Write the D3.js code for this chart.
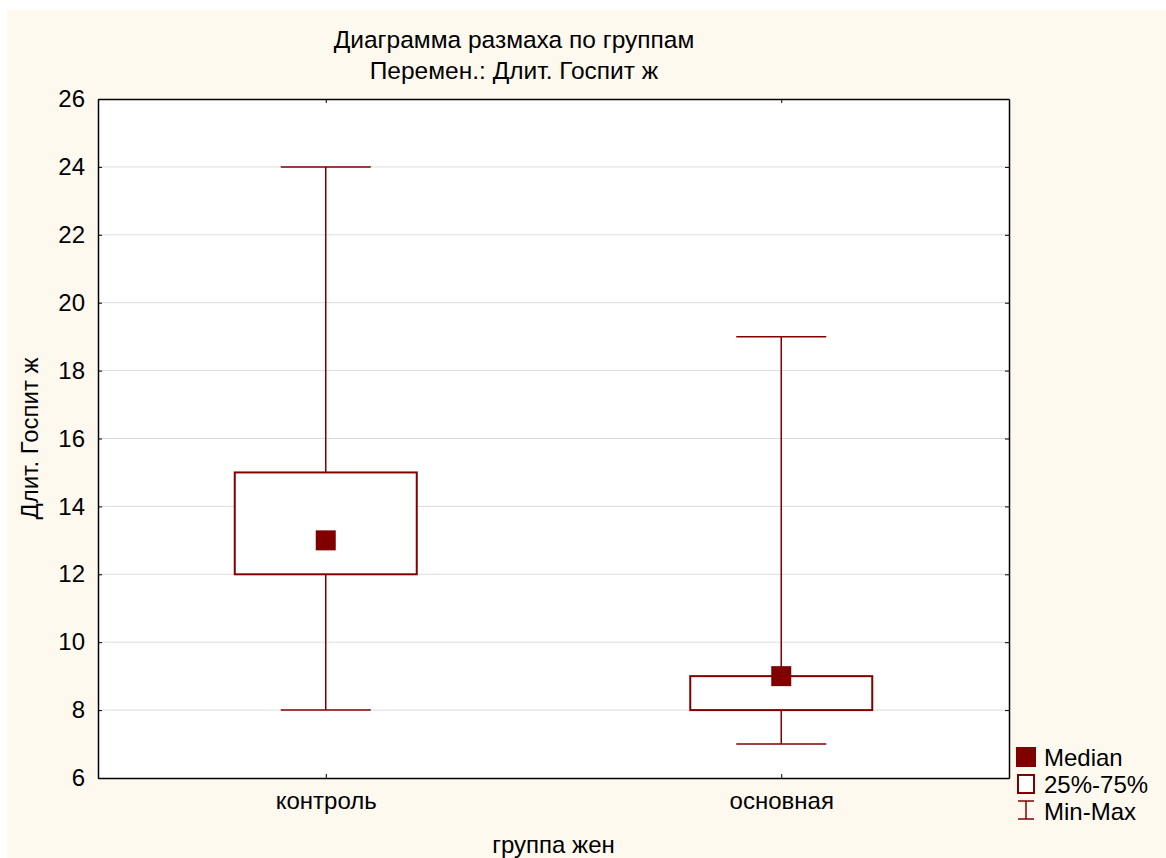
<!DOCTYPE html>
<html><head><meta charset="utf-8">
<script src="https://cdn.jsdelivr.net/npm/d3@7"></script>
<style>body{margin:0;background:#fff}svg{display:block}text{font-family:"Liberation Sans",Arial,sans-serif;fill:#000}</style>
</head><body>
<script>
const categories = ["контроль", "основная"];
const minVals = [8, 7];
const q1Vals = [12, 8];
const medianVals = [13, 9];
const q3Vals = [15, 9];
const maxVals = [24, 19];
const yTicks = [6, 8, 10, 12, 14, 16, 18, 20, 22, 24, 26];
const titleLines = ["Диаграмма размаха по группам", "Перемен.: Длит. Госпит ж"];
const xLabel = "группа жен";
const yLabel = "Длит. Госпит ж";
const legendItems = ["Median", "25%-75%", "Min-Max"];

const W = 1166, H = 858;
const m = {l: 98, t: 99, r: 1009, b: 778};
const col = "#800000";
const fs = 24;
const fsTitle = 24.5;

const svg = d3.select("body").append("svg").attr("width", W).attr("height", H);
svg.append("rect").attr("x", 7).attr("y", 10).attr("width", W - 7).attr("height", H - 10).attr("fill", "#fdf9ef");

const y = d3.scaleLinear().domain([6, 26]).range([m.b, m.t]);
const x = d3.scalePoint().domain(categories).range([m.l, m.r]).padding(0.5);

svg.append("rect").attr("x", m.l).attr("y", m.t).attr("width", m.r - m.l).attr("height", m.b - m.t).attr("fill", "#fff");

// grid
svg.append("g").selectAll("line").data(yTicks.filter(t => t > 6 && t < 26)).join("line")
  .attr("x1", m.l).attr("x2", m.r).attr("y1", d => y(d)).attr("y2", d => y(d))
  .attr("stroke", "#dcdcdc").attr("stroke-width", 1);

// axes
const yAxis = svg.append("g").attr("transform", `translate(${m.l},0)`)
  .call(d3.axisLeft(y).tickValues(yTicks).tickSizeInner(-4).tickSizeOuter(0).tickPadding(13));
yAxis.select(".domain").attr("stroke", "#000").attr("stroke-width", 1.5);
yAxis.selectAll(".tick line").attr("stroke", "#000");
yAxis.selectAll("text").attr("font-size", fs).attr("font-family", "Liberation Sans, Arial, sans-serif").attr("fill", "#000");

const yAxisR = svg.append("g").attr("transform", `translate(${m.r},0)`)
  .call(d3.axisRight(y).tickValues(yTicks).tickSizeInner(-4).tickSizeOuter(0).tickFormat(""));
yAxisR.select(".domain").attr("stroke", "#000").attr("stroke-width", 1.5);
yAxisR.selectAll(".tick line").attr("stroke", "#000");

const xAxis = svg.append("g").attr("transform", `translate(0,${m.b})`)
  .call(d3.axisBottom(x).tickSizeInner(-4).tickSizeOuter(0).tickPadding(14));
xAxis.select(".domain").attr("stroke", "#000").attr("stroke-width", 1.5);
xAxis.selectAll(".tick line").attr("stroke", "#000");
xAxis.selectAll("text").attr("font-size", fs).attr("font-family", "Liberation Sans, Arial, sans-serif").attr("fill", "#000");

const xAxisT = svg.append("g").attr("transform", `translate(0,${m.t})`)
  .call(d3.axisTop(x).tickSizeInner(-4).tickSizeOuter(0).tickFormat(""));
xAxisT.select(".domain").attr("stroke", "#000").attr("stroke-width", 1.5);
xAxisT.selectAll(".tick line").attr("stroke", "#000");

// boxes
const data = categories.map((c, i) => ({c, min: minVals[i], q1: q1Vals[i], med: medianVals[i], q3: q3Vals[i], max: maxVals[i]}));
const boxW = 182, capW = 90, medS = 20;
const g = svg.append("g");
data.forEach(d => {
  const cx = x(d.c);
  g.append("line").attr("x1", cx).attr("x2", cx).attr("y1", y(d.max)).attr("y2", y(d.q3)).attr("stroke", col).attr("stroke-width", 1.5);
  g.append("line").attr("x1", cx).attr("x2", cx).attr("y1", y(d.q1)).attr("y2", y(d.min)).attr("stroke", col).attr("stroke-width", 1.5);
  g.append("line").attr("x1", cx - capW / 2).attr("x2", cx + capW / 2).attr("y1", y(d.max)).attr("y2", y(d.max)).attr("stroke", col).attr("stroke-width", 1.5);
  g.append("line").attr("x1", cx - capW / 2).attr("x2", cx + capW / 2).attr("y1", y(d.min)).attr("y2", y(d.min)).attr("stroke", col).attr("stroke-width", 1.5);
  g.append("rect").attr("x", cx - boxW / 2).attr("y", y(d.q3)).attr("width", boxW).attr("height", y(d.q1) - y(d.q3))
    .attr("fill", "#fff").attr("stroke", col).attr("stroke-width", 2);
  g.append("rect").attr("x", cx - medS / 2).attr("y", y(d.med) - medS / 2).attr("width", medS).attr("height", medS).attr("fill", col);
});

// titles
svg.append("text").attr("x", 514).attr("y", 48).attr("text-anchor", "middle").attr("font-size", fsTitle).text(titleLines[0]);
svg.append("text").attr("x", 514).attr("y", 79).attr("text-anchor", "middle").attr("font-size", fsTitle).text(titleLines[1]);
svg.append("text").attr("x", (m.l + m.r) / 2).attr("y", 853).attr("text-anchor", "middle").attr("font-size", fs).text(xLabel);
svg.append("text").attr("transform", `translate(38,${(m.t + m.b) / 2}) rotate(-90)`).attr("text-anchor", "middle").attr("font-size", fs).text(yLabel);

// legend
const lg = svg.append("g");
lg.append("rect").attr("x", 1016).attr("y", 747).attr("width", 20).attr("height", 20).attr("fill", col);
lg.append("rect").attr("x", 1018).attr("y", 775).attr("width", 16).attr("height", 18).attr("fill", "#fff").attr("stroke", col).attr("stroke-width", 2);
lg.append("line").attr("x1", 1026).attr("x2", 1026).attr("y1", 801).attr("y2", 819).attr("stroke", col).attr("stroke-width", 1.5);
lg.append("line").attr("x1", 1018).attr("x2", 1034).attr("y1", 801).attr("y2", 801).attr("stroke", col).attr("stroke-width", 1.5);
lg.append("line").attr("x1", 1018).attr("x2", 1034).attr("y1", 819).attr("y2", 819).attr("stroke", col).attr("stroke-width", 1.5);
lg.selectAll("text").data(legendItems).join("text")
  .attr("x", 1044).attr("y", (d, i) => 766 + i * 27).attr("font-size", fs).text(d => d);
</script>
</body></html>
